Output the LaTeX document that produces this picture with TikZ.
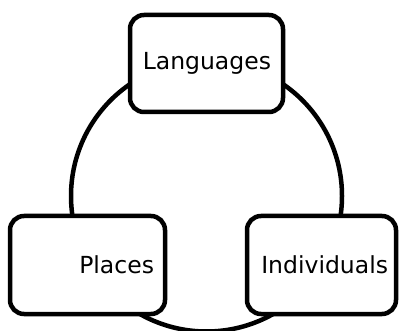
\documentclass[tikz,border=0pt]{standalone}
\usepackage{fontspec}
\setmainfont{DejaVu Sans}
\begin{document}
\begin{tikzpicture}[x=1pt,y=-1pt,
  ring/.style={draw, line width=4.5pt},
  box/.style={draw, line width=4.5pt, rounded corners=14pt, fill=white,
    inner ysep=0pt, align=right, font=\fontsize{23.5}{27}\selectfont}]
\useasboundingbox (0,0) rectangle (399,331);
\coordinate (c) at (206.5,196);
\draw[ring] (c) circle[radius=135.5];
\node[box, inner xsep=12pt, text width=129pt, minimum height=97pt] (lang) at (206.5,63.5) {Languages};
\node[box, inner xsep=11pt, text width=133pt, minimum height=98pt] (places) at (87.5,265) {Places};
\node[box, inner xsep=8pt, text width=133pt, minimum height=98pt] (indiv) at (321.5,265) {Individuals};
\end{tikzpicture}
\end{document}
